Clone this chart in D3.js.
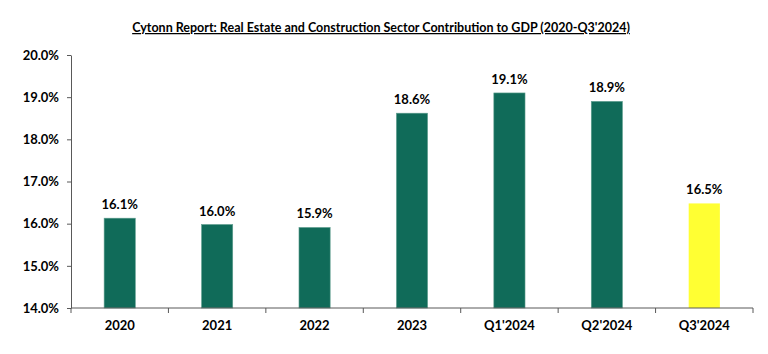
<!DOCTYPE html>
<html>
<head>
<meta charset="utf-8">
<script src="https://cdn.jsdelivr.net/npm/d3@7"></script>
<style>
  body { margin: 0; background: #fff; }
  text { font-family: Lato, "Open Sans", sans-serif; font-weight: bold; fill: #000; }
</style>
</head>
<body>
<div id="chart"></div>
<script>
// data
var categories = ["2020", "2021", "2022", "2023", "Q1'2024", "Q2'2024", "Q3'2024"];
var values = [16.13, 15.98, 15.91, 18.62, 19.1, 18.9, 16.48];
var labels = ["16.1%", "16.0%", "15.9%", "18.6%", "19.1%", "18.9%", "16.5%"];
var barColors = ["#106b59", "#106b59", "#106b59", "#106b59", "#106b59", "#106b59", "#ffff33"];
var yTicks = [14, 15, 16, 17, 18, 19, 20];
var title = "Cytonn Report: Real Estate and Construction Sector Contribution to GDP (2020-Q3'2024)";

var width = 768, height = 354;
var margin = { top: 55, right: 15, bottom: 46, left: 71 };

var svg = d3.select("#chart").append("svg")
  .attr("width", width)
  .attr("height", height);

var x = d3.scaleBand()
  .domain(categories)
  .range([margin.left, width - margin.right])
  .paddingInner(0.68)
  .paddingOuter(0.34);

var y = d3.scaleLinear()
  .domain([14, 20])
  .range([height - margin.bottom, margin.top]);

// title
svg.append("text")
  .attr("x", 381)
  .attr("y", 32)
  .attr("text-anchor", "middle")
  .style("font-size", "12.5px")
  .style("text-decoration", "underline")
  .text(title);

// bars
svg.selectAll(".bar")
  .data(values)
  .enter().append("rect")
  .attr("class", "bar")
  .attr("x", (d, i) => x(categories[i]))
  .attr("y", d => y(d))
  .attr("width", x.bandwidth())
  .attr("height", d => y(14) - y(d))
  .attr("fill", (d, i) => barColors[i])
  .attr("stroke", (d, i) => i < 6 ? "#5f9e8f" : "none")
  .attr("stroke-width", 0.6);

// value labels
svg.selectAll(".lbl")
  .data(values)
  .enter().append("text")
  .attr("class", "lbl")
  .attr("x", (d, i) => x(categories[i]) + x.bandwidth() / 2)
  .attr("y", d => y(d) - 9)
  .attr("text-anchor", "middle")
  .style("font-size", "13px")
  .text((d, i) => labels[i]);

// y axis
var yAxis = svg.append("g")
  .attr("transform", "translate(" + margin.left + ",0)")
  .call(d3.axisLeft(y).tickValues(yTicks).tickFormat(d => d.toFixed(1) + "%").tickSize(4).tickSizeOuter(0));
yAxis.selectAll("text").style("font-size", "13px").attr("dx", "-5");

// x axis with ticks between categories
var xAxisG = svg.append("g").attr("transform", "translate(0," + y(14) + ")");
xAxisG.append("line")
  .attr("x1", margin.left).attr("x2", width - margin.right)
  .attr("stroke", "#595959");
var step = x.step();
var bounds = d3.range(categories.length + 1).map(i => margin.left + i * step);
xAxisG.selectAll(".xt")
  .data(bounds)
  .enter().append("line")
  .attr("x1", d => d).attr("x2", d => d)
  .attr("y1", 0).attr("y2", 5)
  .attr("stroke", "#595959");
xAxisG.selectAll(".xl")
  .data(categories)
  .enter().append("text")
  .attr("x", d => x(d) + x.bandwidth() / 2)
  .attr("y", 22)
  .attr("text-anchor", "middle")
  .style("font-size", "13px")
  .text(d => d);

yAxis.select(".domain").attr("stroke", "#595959");
yAxis.selectAll(".tick line").attr("stroke", "#595959");
</script>
</body>
</html>
